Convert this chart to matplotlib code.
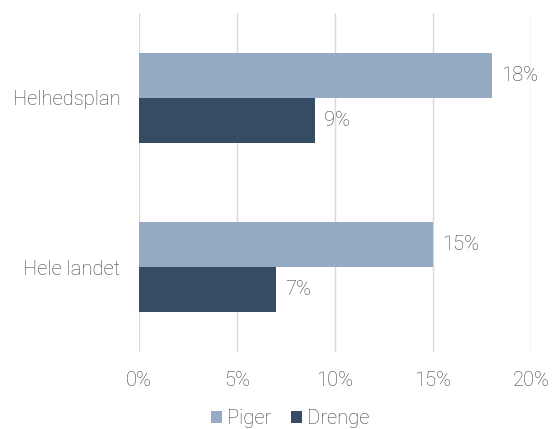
import matplotlib
matplotlib.use("Agg")
import matplotlib.pyplot as plt
import numpy as np
from matplotlib.patches import Patch

categories = ["Helhedsplan", "Hele landet"]
series_names = ["Piger", "Drenge"]
piger = [18, 15]
drenge = [9, 7]
xticks = [0, 5, 10, 15, 20]

colors = ["#95abc4", "#364c62"]
text_color = "#404040"
plt.rcParams['font.family'] = ['Roboto', 'DejaVu Sans']
plt.rcParams['font.weight'] = 'light'
fs = 14.5

fig = plt.figure(figsize=(5.54, 4.29), dpi=100)
ax = fig.add_axes([139/554, 1-352/429, (531-139)/554, (352-13)/429])

y = np.arange(len(categories))
h = 0.265
for vals, off, col in [(piger, -h/2, colors[0]), (drenge, h/2, colors[1])]:
    bars = ax.barh(y + off, vals, height=h, color=col, zorder=3)
    for b, v in zip(bars, vals):
        ax.text(v + 0.45, b.get_y() + b.get_height()/2, f"{v}%", va="center", ha="left",
                fontsize=fs, color=text_color, fontweight='light')

ax.set_ylim(1.5, -0.5)
ax.set_xlim(0, 20)
ax.set_xticks(xticks)
ax.set_xticklabels([f"{t}%" for t in xticks], fontsize=fs, color=text_color, fontweight='light')
ax.set_yticks(y)
ax.set_yticklabels(categories, fontsize=fs, color=text_color, fontweight='light')
ax.tick_params(axis='both', length=0)
ax.tick_params(axis='x', pad=13.5)
ax.tick_params(axis='y', pad=13.5)
ax.grid(axis='x', color='#d9d9d9', linewidth=1, zorder=0)
for s in ax.spines.values():
    s.set_visible(False)

handles = [Patch(facecolor=c, edgecolor='none') for c in colors]
fig.legend(handles, series_names, loc='center', bbox_to_anchor=(290/554, 1-419/429), ncol=2,
           frameon=False, handlelength=0.55, handleheight=0.55, handletextpad=0.25, columnspacing=1.0,
           prop={'size': fs, 'weight': 'light'}, labelcolor=text_color)

fig.savefig("out.png", dpi=100, facecolor='white')
